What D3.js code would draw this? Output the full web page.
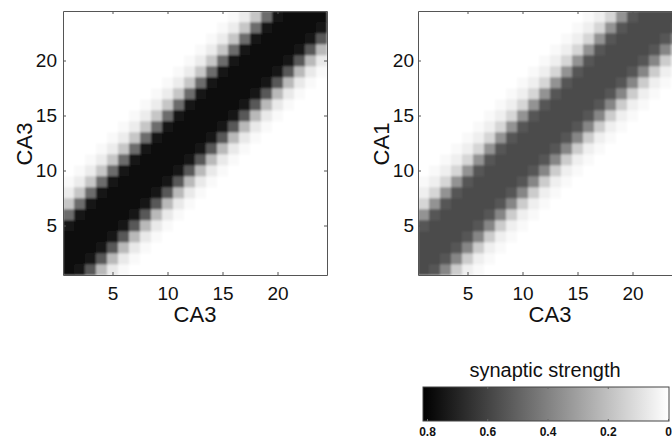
<!DOCTYPE html>
<html>
<head>
<meta charset="utf-8">
<script src="https://cdnjs.cloudflare.com/ajax/libs/d3/7.8.5/d3.min.js"></script>
<style>
  body { margin: 0; background: #fff; }
  text { font-family: "Liberation Sans", Arial, sans-serif; fill: #111; }
</style>
</head>
<body>
<script>
// cells 1..24 on both axes
var cells = d3.range(1, 25);
var axisTicks = [5, 10, 15, 20];
var cbarTicks = [0.8, 0.6, 0.4, 0.2, 0];

// strength along the band, by offset (column - row)
var bandOffsets = [-9, -8, -7, -6, -5, -4, -3, -2, -1, 0, 1, 2, 3, 4, 5, 6];
var ca3ca3Strength = [0.00, 0.02, 0.06, 0.18, 0.46, 0.73, 0.76, 0.76, 0.76, 0.76, 0.73, 0.52, 0.22, 0.07, 0.02, 0.00];
var ca3ca1Strength = [0.00, 0.02, 0.05, 0.13, 0.34, 0.53, 0.56, 0.56, 0.56, 0.56, 0.53, 0.38, 0.16, 0.05, 0.02, 0.00];

var w = 672, h = 443;
var size = 264;

var svg = d3.select("body")
    .append("svg")
    .attr("width", w)
    .attr("height", h);

var defs = svg.append("defs");
defs.append("filter")
    .attr("id", "soft")
    .append("feGaussianBlur")
    .attr("stdDeviation", 0.8);

var color = d3.scaleLinear()
    .domain([0, 0.8])
    .range(["#ffffff", "#000000"])
    .clamp(true);

function matrix(strength) {
    var out = [];
    cells.forEach(function (r) {
        cells.forEach(function (c) {
            var k = bandOffsets.indexOf(c - r);
            out.push({row: r, col: c, v: k < 0 ? 0 : strength[k]});
        });
    });
    return out;
}

function panel(id, left, top, strength, yTitle, xTitle, pad, titleX) {
    var x = d3.scaleLinear().domain([0.5, 24.5]).range([0, size]);
    var y = d3.scaleLinear().domain([0.5, 24.5]).range([size, 0]);
    var g = svg.append("g").attr("transform", "translate(" + left + "," + top + ")");

    defs.append("clipPath").attr("id", id)
        .append("rect").attr("width", size).attr("height", size);

    g.append("g")
        .attr("clip-path", "url(#" + id + ")")
        .append("g")
        .attr("filter", "url(#soft)")
        .selectAll("rect")
        .data(matrix(strength))
        .enter()
        .append("rect")
        .attr("x", function (d) { return x(d.col - 0.5); })
        .attr("y", function (d) { return y(d.row + 0.5); })
        .attr("width", x(1.5) - x(0.5) + 0.3)
        .attr("height", y(0.5) - y(1.5) + 0.3)
        .attr("fill", function (d) { return color(d.v); });

    // box with inward ticks, matlab style
    var tickCol = "#555";
    g.append("g").attr("transform", "translate(0," + size + ")")
        .call(d3.axisBottom(x).tickValues(axisTicks).tickSizeInner(-3).tickSizeOuter(0).tickPadding(12));
    g.append("g")
        .call(d3.axisLeft(y).tickValues(axisTicks).tickSizeInner(-3).tickSizeOuter(0).tickPadding(pad));
    g.append("g")
        .call(d3.axisTop(x).tickValues(axisTicks).tickSizeInner(-3).tickSizeOuter(0).tickFormat(""));
    g.append("g").attr("transform", "translate(" + size + ",0)")
        .call(d3.axisRight(y).tickValues(axisTicks).tickSizeInner(-3).tickSizeOuter(0).tickFormat(""));
    g.selectAll(".domain").attr("stroke", tickCol);
    g.selectAll(".tick line").attr("stroke", tickCol);
    g.selectAll(".tick text")
        .attr("font-size", 19)
        .attr("font-family", "Liberation Sans, Arial, sans-serif")
        .attr("fill", "#111");

    g.append("text")
        .attr("x", size / 2)
        .attr("y", size + 47)
        .attr("text-anchor", "middle")
        .attr("font-size", 22)
        .text(xTitle);

    g.append("text")
        .attr("transform", "translate(" + titleX + "," + (size / 2 + 1) + ") rotate(-90)")
        .attr("text-anchor", "middle")
        .attr("font-size", 22)
        .text(yTitle);
}

panel("clipA", 63, 11, ca3ca3Strength, "CA3", "CA3", 6, -31);
panel("clipB", 418, 11, ca3ca1Strength, "CA1", "CA3", 4, -29);

// colorbar
var cb = {x0: 423, x1: 669, y0: 387, y1: 421};
var cx = d3.scaleLinear().domain([0.8, 0]).range([427, 668]);

var grad = defs.append("linearGradient")
    .attr("id", "cbgrad")
    .attr("x1", "0%").attr("x2", "100%");
grad.append("stop").attr("offset", "0%").attr("stop-color", color(0.8));
grad.append("stop").attr("offset", "100%").attr("stop-color", color(0));

svg.append("rect")
    .attr("x", cb.x0)
    .attr("y", cb.y0)
    .attr("width", cb.x1 - cb.x0)
    .attr("height", cb.y1 - cb.y0)
    .attr("fill", "url(#cbgrad)")
    .attr("stroke", "#444");

svg.append("g")
    .attr("transform", "translate(0," + cb.y1 + ")")
    .call(d3.axisBottom(cx).tickValues(cbarTicks).tickSizeInner(-2).tickSizeOuter(0).tickPadding(6)
        .tickFormat(function (d) { return d === 0 ? "0" : d3.format(".1f")(d); }))
    .call(function (a) { a.select(".domain").remove(); })
    .call(function (a) {
        a.selectAll(".tick line").attr("stroke", "#666");
        a.selectAll(".tick text").attr("font-size", 12).attr("font-weight", "bold")
            .attr("font-family", "Liberation Sans, Arial, sans-serif").attr("fill", "#111");
    });

svg.append("g")
    .attr("transform", "translate(0," + cb.y0 + ")")
    .call(d3.axisTop(cx).tickValues([0.6, 0.4, 0.2]).tickSizeInner(-2).tickSizeOuter(0).tickFormat(""))
    .call(function (a) { a.select(".domain").remove(); a.selectAll(".tick line").attr("stroke", "#666"); });

svg.append("text")
    .attr("x", 545)
    .attr("y", 377)
    .attr("text-anchor", "middle")
    .attr("font-size", 20)
    .text("synaptic strength");
</script>
</body>
</html>
